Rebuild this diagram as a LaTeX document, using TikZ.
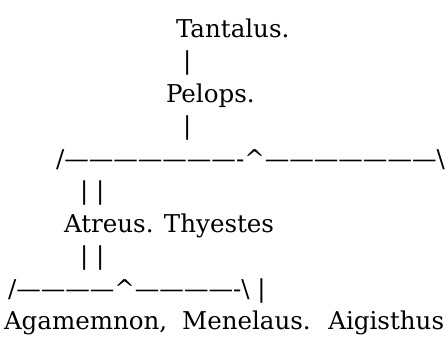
\documentclass[tikz,border=0pt]{standalone}
\usepackage{fontspec}
\setmainfont{DejaVu Serif}
\begin{document}
\begin{tikzpicture}[x=0.75pt,y=-0.75pt,
  row/.style={anchor=base west,inner sep=0pt,outer sep=0pt,
    font=\fontsize{18.4pt}{22pt}\selectfont,text=black}]
\useasboundingbox[fill=white] (0,0) rectangle (448,343);
% family tree of the house of Tantalus, one printed line per node
\node[row] (tantalus) at (176,37)  {Tantalus.};
\node[row] (bar1)     at (183,69.5) {|};
\node[row] (pelops)   at (166,102) {Pelops.};
\node[row] (bar2)     at (183,134.5) {|};
\node[row] (fork1)    at (56,167)  {/———————-\^{}———————\textbackslash};
\node[row] (bars1)    at (80,199.5) {| |};
\node[row] (sons)     at (64,232)  {Atreus. Thyestes};
\node[row] (bars2)    at (80,264.5) {| |};
\node[row] (fork2)    at (8,297)  {/————\^{}————-\textbackslash\ |};
\node[row] (grandsons) at (4,329.5)
  {\spaceskip=11.2pt Agamemnon, Menelaus. Aigisthus};
\end{tikzpicture}
\end{document}
